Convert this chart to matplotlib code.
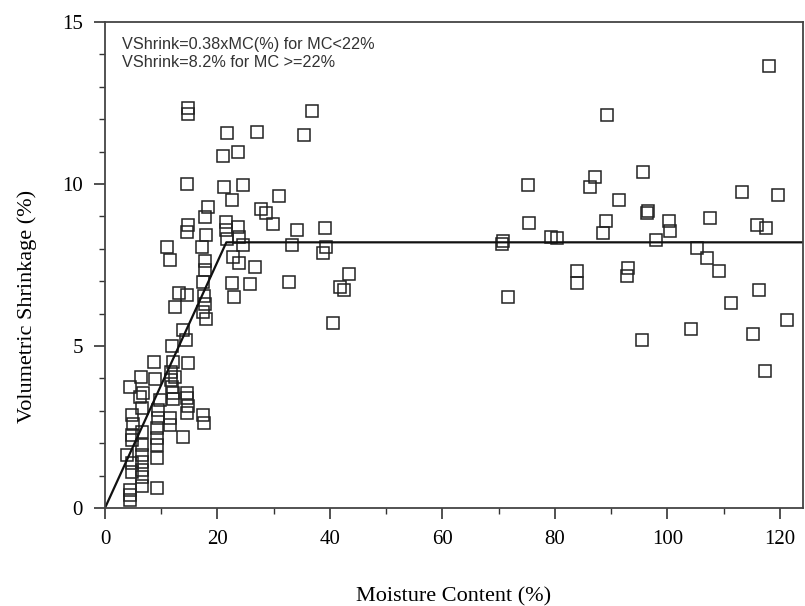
import numpy as np
import matplotlib
matplotlib.use("Agg")
import matplotlib.pyplot as plt
from matplotlib.ticker import MultipleLocator

# moisture content (%) and volumetric shrinkage (%)
mc_low = [14.8, 14.8, 21.7, 21.0, 23.6, 14.6, 21.2, 24.5, 22.6, 18.3,
          17.8, 21.5, 23.6, 14.8, 14.6, 18.0, 21.5, 21.7, 23.8, 24.5,
          11.0, 11.6, 17.2, 17.8, 17.8, 22.8, 23.8, 17.4, 17.6, 17.8,
          17.4, 18.0, 22.6, 22.9, 25.8, 13.2, 14.6, 12.4, 13.9, 14.4,
          11.9, 12.1, 14.8, 8.7, 6.4, 4.4, 8.9, 11.7, 11.7, 11.9,
          6.8, 14.6, 12.1, 6.2, 9.8, 12.1, 14.6, 14.8, 6.6, 4.8,
          9.4, 9.4, 11.6, 11.6, 14.6, 17.4, 17.6, 13.9, 4.8, 4.8,
          6.6, 9.2, 9.2, 9.2, 6.6, 3.9, 6.6, 6.6, 4.8, 4.8,
          9.2, 6.6, 6.6, 6.6, 4.4, 4.4, 4.4, 9.2, 5.0, 12.4]
vs_low = [12.35, 12.15, 11.57, 10.86, 10.99, 10.0, 9.91, 9.97, 9.5, 9.29,
          8.98, 8.83, 8.67, 8.73, 8.52, 8.43, 8.58, 8.3, 8.36, 8.12,
          8.06, 7.65, 8.06, 7.62, 7.35, 7.75, 7.56, 6.98, 6.54, 6.3,
          6.05, 5.83, 6.94, 6.51, 6.9, 6.63, 6.57, 6.2, 5.49, 5.19,
          5.0, 4.51, 4.48, 4.51, 4.04, 3.73, 3.98, 4.2, 3.95, 3.73,
          3.55, 3.55, 3.55, 3.43, 3.33, 3.36, 3.4, 3.15, 3.09, 2.87,
          3.02, 2.78, 2.78, 2.56, 2.93, 2.87, 2.62, 2.19, 2.25, 2.1,
          2.35, 2.47, 2.16, 1.94, 1.94, 1.64, 1.64, 1.42, 1.39, 1.11,
          1.54, 1.17, 0.96, 0.68, 0.56, 0.4, 0.25, 0.62, 2.6, 4.05]

mc_high = [26.7, 32.7, 43.4, 41.8, 42.5, 40.5, 36.8, 27.0, 35.4, 30.9,
           27.7, 28.7, 29.9, 34.1, 39.1, 33.2, 39.3, 38.8,
           118.0, 89.2, 75.2, 87.1, 86.2, 95.7, 91.4, 113.2, 119.6, 75.4,
           96.5, 96.3, 89.1, 100.3, 107.6, 115.9, 117.5, 100.4, 88.5, 70.8,
           70.6, 79.3, 80.4, 98.0, 105.2, 107.0, 109.2, 83.9, 83.9, 93.0,
           92.8, 71.6, 116.3, 111.3, 121.2, 104.2, 115.2, 95.5, 117.3]
vs_high = [7.44, 6.98, 7.22, 6.82, 6.73, 5.71, 12.25, 11.6, 11.5, 9.63,
           9.23, 9.1, 8.77, 8.58, 8.64, 8.12, 8.06, 7.87,
           13.64, 12.13, 9.97, 10.21, 9.91, 10.37, 9.51, 9.75, 9.66, 8.8,
           9.17, 9.1, 8.86, 8.86, 8.95, 8.73, 8.64, 8.55, 8.49, 8.24,
           8.15, 8.36, 8.33, 8.27, 8.02, 7.72, 7.31, 7.31, 6.94, 7.41,
           7.16, 6.51, 6.73, 6.33, 5.8, 5.52, 5.37, 5.19, 4.23]

slope = 0.38
plateau = 8.2
x_end = 124.1

mc = np.array(mc_low + mc_high)
vs = np.array(vs_low + vs_high)

fig = plt.figure(figsize=(8.05, 6.06), dpi=100)
ax = fig.add_axes([0.1304, 0.1617, 0.8671, 0.802])

ax.plot(mc, vs, linestyle='none', marker='s', markersize=9,
        markerfacecolor='none', markeredgecolor='#222222', markeredgewidth=1.1)

# piecewise fit line
brk = plateau / slope
ax.plot([0, brk, x_end], [0, plateau, plateau], color='#111111', lw=1.6)

ax.set_xlim(0, x_end)
ax.set_ylim(0, 15)
ax.xaxis.set_major_locator(MultipleLocator(20))
ax.xaxis.set_minor_locator(MultipleLocator(10))
ax.yaxis.set_major_locator(MultipleLocator(5))
ax.yaxis.set_minor_locator(MultipleLocator(1))
ax.tick_params(which='major', direction='out', length=8, width=1.2,
               color='#333333', labelsize=15, pad=8)
ax.tick_params(which='minor', direction='out', length=4, width=1.0,
               color='#333333')
for lab in ax.get_xticklabels() + ax.get_yticklabels():
    lab.set_family('Liberation Serif')
for s in ax.spines.values():
    s.set_color('#444444')
    s.set_linewidth(1.3)

ax.set_xlabel('Moisture Content (%)', family='Liberation Serif', fontsize=16)
ax.set_ylabel('Volumetric Shrinkage (%)', family='Liberation Serif', fontsize=16)
ax.xaxis.set_label_coords(0.5, -0.162)
ax.yaxis.set_label_coords(-0.097, 0.414)

ax.text(0.024, 0.97, 'VShrink=0.38xMC(%) for MC<22%\nVShrink=8.2% for MC >=22%',
        transform=ax.transAxes, va='top', ha='left', fontsize=11.7,
        family='Liberation Sans', color='#333333', linespacing=1.25)

fig.savefig('out.png', dpi=100)
